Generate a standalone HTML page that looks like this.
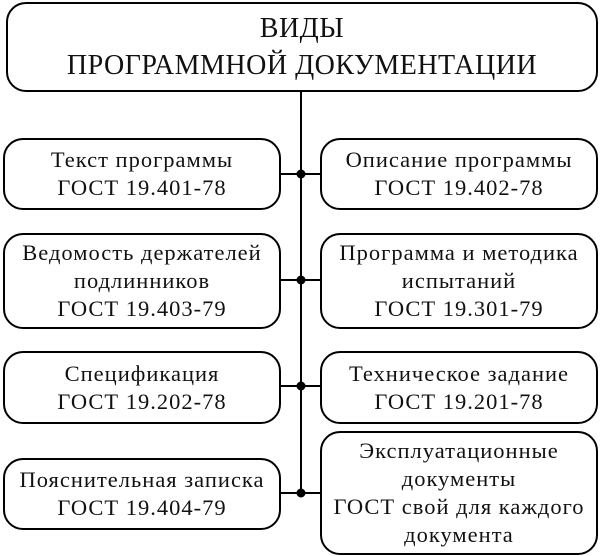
<!DOCTYPE html>
<html><head><meta charset="utf-8"><style>
body{margin:0;width:602px;height:556px;background:#fff;overflow:hidden}
svg{position:absolute;left:0;top:0}
.b{position:absolute;box-sizing:border-box;border:2.5px solid #000;border-radius:20px;background:#fff;display:flex;align-items:center;justify-content:center;text-align:center;font-family:"Liberation Serif",serif;font-size:22.5px;letter-spacing:1px;line-height:28px;color:#111;white-space:nowrap}
</style></head><body>
<svg width="602" height="556">
<line x1="301" y1="90" x2="301" y2="493" stroke="#000" stroke-width="2"/>
<g stroke="#000" stroke-width="2">
<line x1="280" y1="174" x2="321" y2="174"/>
<line x1="280" y1="280" x2="321" y2="280"/>
<line x1="280" y1="386" x2="321" y2="386"/>
<line x1="280" y1="493" x2="321" y2="493"/>
</g>
<g fill="#000"><circle cx="301" cy="174" r="4.5"/><circle cx="301" cy="280" r="4.5"/><circle cx="301" cy="386" r="4.5"/><circle cx="301" cy="493" r="4.5"/></g>
</svg>
<div class="b" style="left:6px;top:2px;width:592px;height:90px;font-size:28px;letter-spacing:0.5px;line-height:37px">ВИДЫ<br>ПРОГРАММНОЙ ДОКУМЕНТАЦИИ</div>
<div class="b" style="left:3px;top:138px;width:278px;height:72px">Текст программы<br>ГОСТ 19.401-78</div>
<div class="b" style="left:320px;top:138px;width:278px;height:72px">Описание программы<br>ГОСТ 19.402-78</div>
<div class="b" style="left:3px;top:233px;width:278px;height:96px">Ведомость держателей<br>подлинников<br>ГОСТ 19.403-79</div>
<div class="b" style="left:320px;top:233px;width:278px;height:96px">Программа и методика<br>испытаний<br>ГОСТ 19.301-79</div>
<div class="b" style="left:3px;top:351px;width:278px;height:73px">Спецификация<br>ГОСТ 19.202-78</div>
<div class="b" style="left:320px;top:351px;width:278px;height:73px">Техническое задание<br>ГОСТ 19.201-78</div>
<div class="b" style="left:3px;top:458px;width:278px;height:72px">Пояснительная записка<br>ГОСТ 19.404-79</div>
<div class="b" style="left:320px;top:431px;width:278px;height:124px">Эксплуатационные<br>документы<br>ГОСТ свой для каждого<br>документа</div>
</body></html>
